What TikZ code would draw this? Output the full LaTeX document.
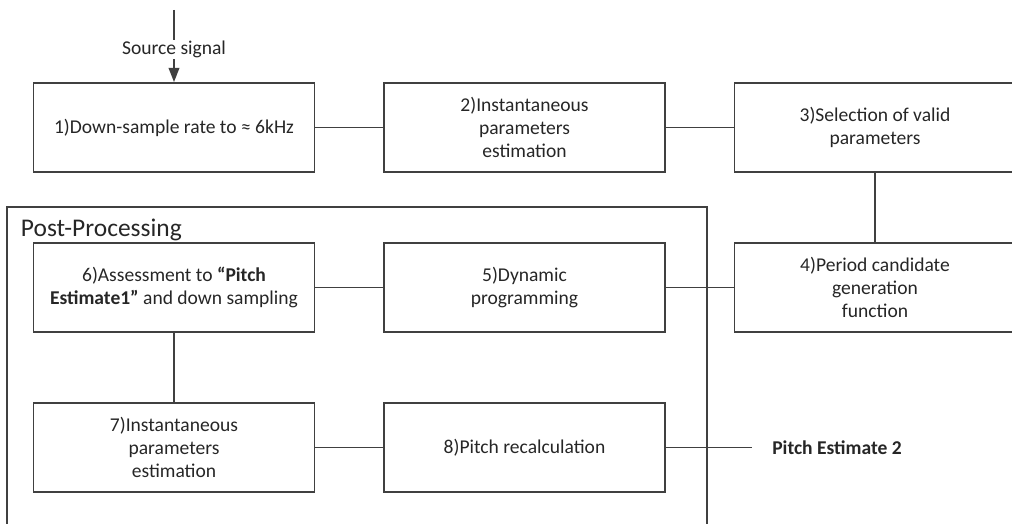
\documentclass[tikz,border=0pt]{standalone}
\usepackage{fontspec}
\setmainfont{Carlito}
\usetikzlibrary{arrows.meta}

\tikzset{
  stage/.style={draw=black!75,line width=1.35pt,minimum width=7.025cm,
    minimum height=2.225cm,align=center,text=black!85,
    font=\fontsize{13.9}{16.2}\selectfont},
  link/.style={draw=black!75,line width=1.35pt},
}

\begin{document}
\begin{tikzpicture}[x=0.025cm,y=-0.025cm]
        \useasboundingbox (0,0) rectangle (1012,524);
        % top row
        \node[stage] (down) at (174,127.5) {1)Down-sample rate to ≈ 6kHz};
        \node[stage] (inst) at (524.5,127.5) {2)Instantaneous\\parameters\\estimation};
        \node[stage] (valid) at (875,127.5) {3)Selection of valid\\parameters};
        \node[stage] (cand) at (875,287.5) {4)Period candidate\\generation\\function};
        % post-processing frame
        \draw[link] (7,524) -- (7,207) -- (707,207) -- (707,524);
        \node[anchor=west,text=black!85,font=\fontsize{18.1}{20}\selectfont]
          (post) at (16,230) {Post-Processing};
        \node[stage] (dyn) at (524.5,287.5) {5)Dynamic\\programming};
        \node[stage] (assess) at (174,287.5)
          {6)Assessment to \textbf{“Pitch}\\\textbf{Estimate1”} and down sampling};
        \node[stage] (reinst) at (174,447.5) {7)Instantaneous\\parameters\\estimation};
        \node[stage] (recalc) at (524.5,447.5) {8)Pitch recalculation};
        \node[anchor=west,inner xsep=0.5cm,text=black!85,
          font=\fontsize{13.9}{16.2}\selectfont\bfseries]
          (pitch) at (752,447.5) {Pitch Estimate 2};
        % input
        \coordinate (src) at (174,10);
        \draw[link,-{Triangle[length=10pt,width=7.5pt]}] (src) --
          node[pos=0.55,fill=white,inner sep=1pt,text=black!85,
            font=\fontsize{13.9}{16.2}\selectfont] (srclabel) {Source signal} (down);
        % connectors
        \draw[link] (down) -- (inst);
        \draw[link] (inst) -- (valid);
        \draw[link] (valid) -- (cand);
        \draw[link] (cand) -- (dyn);
        \draw[link] (dyn) -- (assess);
        \draw[link] (assess) -- (reinst);
        \draw[link] (reinst) -- (recalc);
        \draw[link] (recalc) -- (pitch);
\end{tikzpicture}
\end{document}
